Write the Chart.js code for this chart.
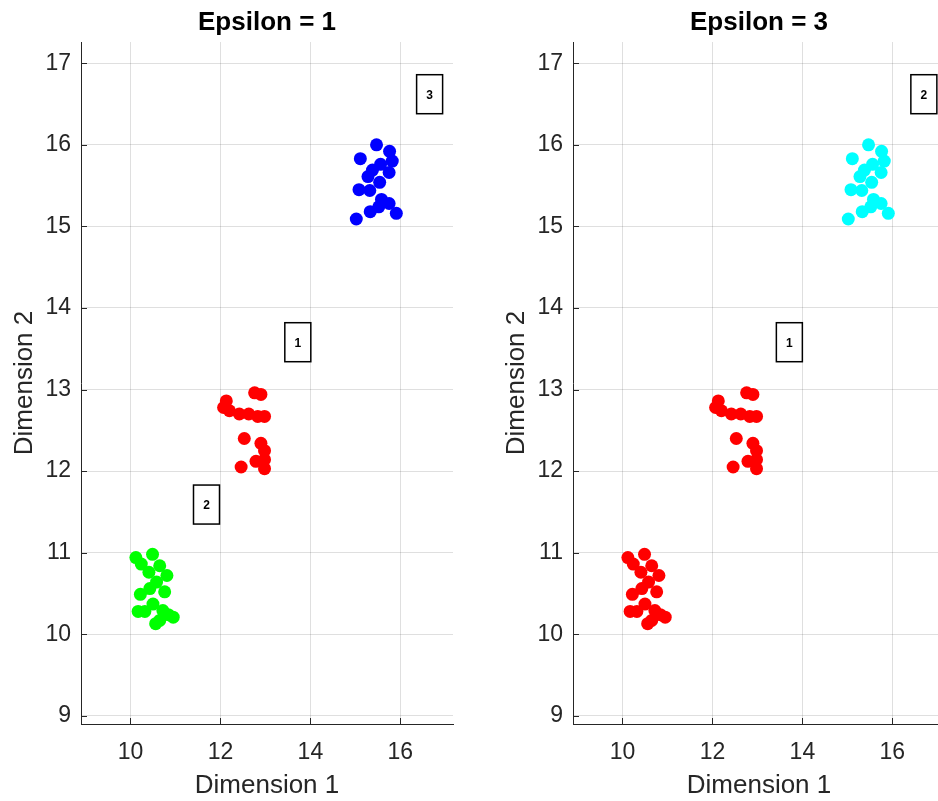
<!DOCTYPE html>
<html>
<head>
<meta charset="utf-8">
<title>Epsilon clusters</title>
<script src="https://cdn.jsdelivr.net/npm/chart.js"></script>
<style>
  html, body { margin: 0; padding: 0; background: #fff; }
  #wrap { position: relative; width: 938px; height: 801px; overflow: hidden; }
  canvas { position: absolute; top: 0; }
</style>
</head>
<body>
<div id="wrap">
  <canvas id="left" width="470" height="801" style="left:0px"></canvas>
  <canvas id="right" width="470" height="801" style="left:492px"></canvas>
</div>
<script>
// tick values
const xTicks = [10, 12, 14, 16];
const yTicks = [9, 10, 11, 12, 13, 14, 15, 16, 17];

// the three groups of points
const lowX  = [10.49, 10.12, 10.24, 10.65, 10.41, 10.81, 10.58, 10.43, 10.22, 10.76, 10.50, 10.17, 10.32, 10.72, 10.65, 10.95, 10.84, 10.56];
const lowY  = [10.98, 10.94, 10.86, 10.84, 10.76, 10.72, 10.64, 10.56, 10.49, 10.52, 10.37, 10.28, 10.28, 10.29, 10.17, 10.21, 10.24, 10.13];
const midX  = [12.76, 12.90, 12.13, 12.07, 12.20, 12.42, 12.63, 12.83, 12.98, 12.53, 12.90, 12.98, 12.79, 12.98, 12.46, 12.98];
const midY  = [12.96, 12.94, 12.86, 12.78, 12.74, 12.70, 12.70, 12.67, 12.67, 12.40, 12.34, 12.25, 12.12, 12.14, 12.05, 12.03];
const highX = [15.47, 15.76, 15.11, 15.82, 15.56, 15.38, 15.75, 15.28, 15.54, 15.08, 15.32, 15.58, 15.75, 15.52, 15.33, 15.91, 15.02];
const highY = [16.00, 15.92, 15.83, 15.80, 15.76, 15.69, 15.66, 15.61, 15.54, 15.45, 15.44, 15.33, 15.28, 15.24, 15.18, 15.16, 15.09];

// cluster labels in boxes
const leftLabels = ['1', '2', '3'];
const leftLabelX = [13.72, 11.69, 16.65];
const leftLabelY = [13.58, 11.59, 16.62];
const rightLabels = ['1', '2'];
const rightLabelX = [13.71, 16.70];
const rightLabelY = [13.58, 16.62];

const INK = '#262626';
const FONT = "'Liberation Sans', Arial, sans-serif";

function pts(xs, ys) { return xs.map((x, i) => ({ x: x, y: ys[i] })); }

const boxLabels = {
  id: 'boxLabels',
  afterDatasetsDraw(chart, args, opts) {
    const ctx = chart.ctx, xs = chart.scales.x, ys = chart.scales.y;
    ctx.save();
    opts.text.forEach((t, i) => {
      const cx = xs.getPixelForValue(opts.x[i]);
      const cy = ys.getPixelForValue(opts.y[i]);
      ctx.fillStyle = '#fff';
      ctx.fillRect(cx - 13, cy - 19.5, 26, 39);
      ctx.strokeStyle = '#000';
      ctx.lineWidth = 1.5;
      ctx.strokeRect(cx - 13, cy - 19.5, 26, 39);
      ctx.fillStyle = '#000';
      ctx.font = 'bold 12px ' + FONT;
      ctx.textAlign = 'center';
      ctx.textBaseline = 'middle';
      ctx.fillText(t, cx, cy + 1);
    });
    ctx.restore();
  }
};

// inward tick marks + title over the plot area
const decor = {
  id: 'decor',
  afterDraw(chart, args, opts) {
    const ctx = chart.ctx, a = chart.chartArea;
    ctx.save();
    ctx.strokeStyle = INK;
    ctx.lineWidth = 1;
    chart.scales.x.ticks.forEach(t => {
      const px = Math.round(chart.scales.x.getPixelForValue(t.value)) + 0.5;
      ctx.beginPath(); ctx.moveTo(px, a.bottom); ctx.lineTo(px, a.bottom - 6); ctx.stroke();
    });
    chart.scales.y.ticks.forEach(t => {
      const py = Math.round(chart.scales.y.getPixelForValue(t.value)) + 0.5;
      ctx.beginPath(); ctx.moveTo(a.left, py); ctx.lineTo(a.left + 6, py); ctx.stroke();
    });
    ctx.fillStyle = '#000';
    ctx.font = 'bold 26px ' + FONT;
    ctx.textAlign = 'center';
    ctx.textBaseline = 'middle';
    ctx.fillText(opts.title, (a.left + a.right) / 2, 23);
    ctx.restore();
  }
};

function makeChart(id, datasets, title, lx, ly, lt) {
  return new Chart(document.getElementById(id), {
    type: 'scatter',
    data: { datasets: datasets },
    options: {
      responsive: false,
      animation: false,
      devicePixelRatio: 1,
      layout: { padding: { left: 0, right: 17, top: 42, bottom: 0 } },
      elements: { point: { radius: 6.5, borderWidth: 0 } },
      plugins: {
        legend: { display: false },
        tooltip: { enabled: false },
        decor: { title: title },
        boxLabels: { text: lt, x: lx, y: ly }
      },
      scales: {
        x: {
          type: 'linear', min: 8.9, max: 17.17,
          afterBuildTicks: s => { s.ticks = xTicks.map(v => ({ value: v })); },
          afterFit: s => { s.height = 77; },
          grid: { color: 'rgba(38,38,38,0.15)', drawTicks: false },
          border: { display: true, color: INK, width: 1 },
          ticks: { padding: 15, color: INK, font: { family: FONT, size: 23 } },
          title: { display: true, text: 'Dimension 1', color: INK, padding: { top: 0, bottom: 0 }, font: { family: FONT, size: 26 } }
        },
        y: {
          type: 'linear', min: 8.9, max: 17.26,
          afterBuildTicks: s => { s.ticks = yTicks.map(v => ({ value: v })); },
          afterFit: s => { s.width = 81; },
          grid: { color: 'rgba(38,38,38,0.15)', drawTicks: false },
          border: { display: true, color: INK, width: 1 },
          ticks: { padding: 10, color: INK, font: { family: FONT, size: 23 } },
          title: { display: true, text: 'Dimension 2', color: INK, padding: { top: 9, bottom: 0 }, font: { family: FONT, size: 26 } }
        }
      }
    },
    plugins: [boxLabels, decor]
  });
}

makeChart('left', [
  { label: '1', data: pts(midX, midY), backgroundColor: '#ff0000' },
  { label: '2', data: pts(lowX, lowY), backgroundColor: '#00ff00' },
  { label: '3', data: pts(highX, highY), backgroundColor: '#0000ff' }
], 'Epsilon = 1', leftLabelX, leftLabelY, leftLabels);

makeChart('right', [
  { label: '1', data: pts(lowX.concat(midX), lowY.concat(midY)), backgroundColor: '#ff0000' },
  { label: '2', data: pts(highX, highY), backgroundColor: '#00ffff' }
], 'Epsilon = 3', rightLabelX, rightLabelY, rightLabels);
</script>
</body>
</html>
